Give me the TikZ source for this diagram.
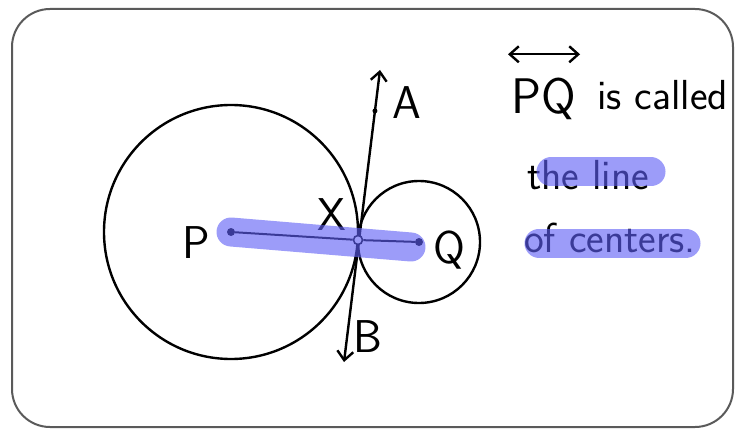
\documentclass[tikz,border=0pt]{standalone}
\usetikzlibrary{arrows.meta, calc}
\definecolor{hilite}{RGB}{95,95,245}
\definecolor{framegray}{RGB}{90,90,90}

\begin{document}
\begin{tikzpicture}[
        x=1pt, y=-1pt,
        ink/.style={line width=2.4pt, black},
        hand/.style={font=\fontsize{42}{50}\selectfont\sffamily, inner sep=0pt},
        letter/.style={font=\fontsize{46}{50}\selectfont\sffamily, inner sep=0pt},
        marker/.style={line width=29pt, line cap=round, hilite, opacity=0.62},
        dot/.style={circle, fill=black, inner sep=0pt, minimum size=8pt},
        barbs/.style={{Straight Barb[length=9pt,width=16pt]}-{Straight Barb[length=9pt,width=16pt]}},
        tangent/.style={ink, barbs},
    ]
    \useasboundingbox (0,0) rectangle (743,430);
    \draw[framegray, line width=2pt, rounded corners=38pt] (12,9) rectangle (733,427);

    % centres, tangent point and ends of the tangent line
    \coordinate (P) at (231,232);
    \coordinate (Q) at (419,242);
    \coordinate (X) at (358,240);
    \coordinate (Atip) at (380,70);
    \coordinate (Btip) at (344,362);

    \draw[ink] (P) circle[radius=127];
    \draw[ink] (Q) circle[radius=61];
    \draw[tangent] (Btip) -- (Atip);

    \node[dot] (pdot) at (P) {};
    \node[dot] (qdot) at (Q) {};
    \node[dot, minimum size=5pt] (adot) at ($(Atip)!0.14!(Btip)$) {};
    \node[circle, draw, line width=1.6pt, fill=white, inner sep=0pt,
          minimum size=9pt] (xdot) at (X) {};
    \draw[line width=2pt] (pdot) -- (xdot) -- (qdot);

    \node[letter] (plabel) at (196,243) {P};
    \node[letter] (xlabel) at (332,215) {X};
    \node[letter] (alabel) at (407,103) {A};
    \node[letter] (blabel) at (368,337) {B};
    \node[letter] (qlabel) at (449,250) {Q};

    % text on the right
    \node[hand, font=\fontsize{50}{56}\selectfont\sffamily, anchor=base west]
        (pqtext) at (511,114) {PQ};
    \coordinate (pqleft) at ($(pqtext.north west)+(-3,-24)$);
    \coordinate (pqright) at ($(pqtext.north east)+(4,-24)$);
    \draw[ink, barbs] (pqleft) -- (pqright);
    \node[hand, anchor=base west] (calledtext) at (597,110) {is called};
    \node[hand, anchor=base west] (linetext) at (527,190) {the line};
    \node[hand, anchor=base west] (centerstext) at (524,252) {of centers.};

    % highlighter strokes
    \draw[marker] (P) -- ($(Q)+(-8,5)$);
    \draw[marker] (551,172) -- (651,172);
    \draw[marker] (539,243) -- (686,243);
\end{tikzpicture}
\end{document}
